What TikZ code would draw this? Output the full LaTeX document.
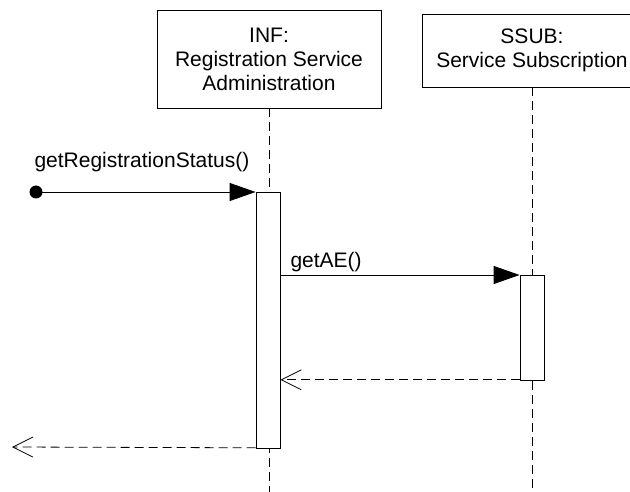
\documentclass[tikz,border=0pt]{standalone}
\usepackage{fontspec}
\setmainfont{Liberation Sans}
\usetikzlibrary{arrows.meta}

\tikzset{
    object/.style={draw, line width=0.8pt, align=center, inner sep=0pt},
    activation/.style={draw, fill=white, line width=0.8pt, minimum width=24pt, inner sep=0pt},
    lifeline/.style={line width=0.8pt, dash pattern=on 9pt off 5pt},
    callmsg/.style={line width=0.8pt, -{Triangle[length=26pt, width=18pt]}},
    replymsg/.style={line width=0.8pt, dash pattern=on 9pt off 5pt, -{Straight Barb[length=20pt, width=20pt, line width=0.8pt]}}
}

\begin{document}
\begin{tikzpicture}[x=1pt, y=-1pt, font=\fontsize{21}{24}\selectfont]
    \useasboundingbox (0,0) rectangle (630,492);

    % Objects
    \node[object, minimum width=224pt, minimum height=98pt] (inf) at (269,59)
        {INF:\\Registration Service\\Administration};
    \node[object, minimum width=220pt, minimum height=73pt] (ssub) at (532,50.5)
        {SSUB:\\Service Subscription};

    % Lifelines
    \draw[lifeline] (inf.south) -- (inf.south |- 0,492);
    \draw[lifeline] (ssub.south) -- (ssub.south |- 0,492);

    % Activation bars
    \node[activation, minimum height=256pt, anchor=north] (barInf) at (268,192) {};
    \node[activation, minimum height=105pt, anchor=north] (barSsub) at (532,275) {};

    % Found message
    \fill (36,192) circle (6.5) coordinate (start);
    \draw[callmsg] (start) -- (barInf.north west);
    \node[anchor=base west] (lblStatus) at (31,168) {getRegistrationStatus()};

    % Call to SSUB
    \draw[callmsg] (barInf.east |- barSsub.north west) coordinate (callAE) -- (barSsub.north west);
    \node[anchor=base west] (lblAE) at (287,268) {getAE()};

    % Replies
    \draw[replymsg] (barSsub.south west) ++(0,-1) coordinate (retAE) -- (barInf.east |- retAE);
    \coordinate (lost) at (12,447);
    \draw[replymsg] (barInf.south west) ++(0,-1) coordinate (retStatus) -- (lost);
\end{tikzpicture}
\end{document}
